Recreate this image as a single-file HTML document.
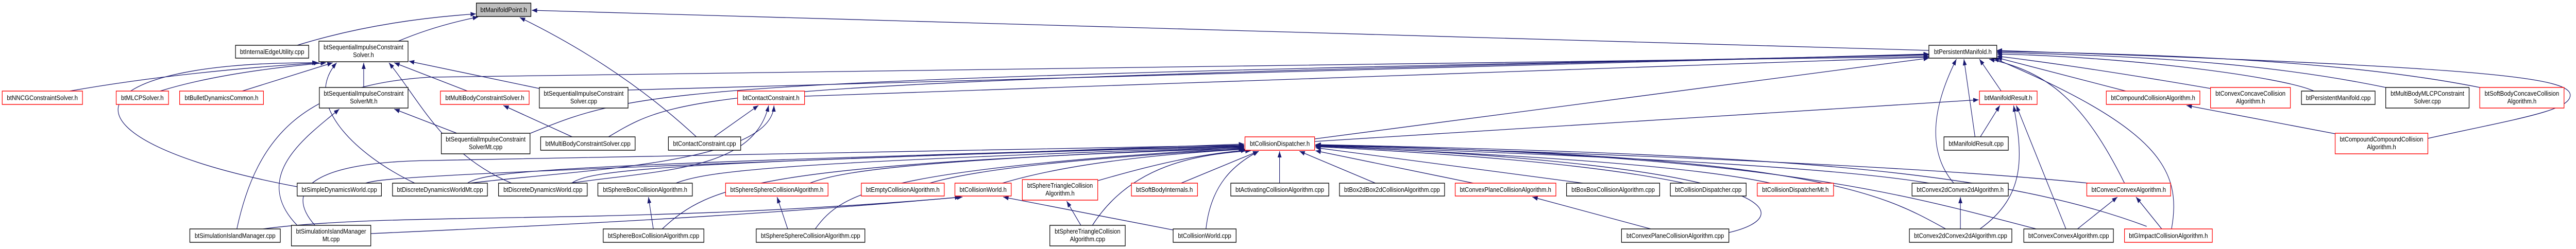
<!DOCTYPE html>
<html><head><meta charset="utf-8"><style>
html,body{margin:0;padding:0;background:#fff;width:100%;height:484px;overflow:hidden;}
svg{display:block;width:100%;height:484px;}
text{font-family:"Liberation Sans",Arial,sans-serif;font-size:13px;fill:#000;}
.b{fill:#fff;stroke:#000;stroke-width:1.4;}
.r{fill:#fff;stroke:#ff0000;stroke-width:1.4;}
.g{fill:#bfbfbf;stroke:#000;stroke-width:1.4;}
.e{fill:none;stroke:#191970;stroke-width:1.3;marker-end:url(#a);}
</style></head><body>
<svg width="100%" height="484" viewBox="0 0 5808 484" preserveAspectRatio="none" xmlns="http://www.w3.org/2000/svg" overflow="hidden">
<defs><marker id="a" markerUnits="userSpaceOnUse" markerWidth="12" markerHeight="9" viewBox="0 0 12 9" refX="12" refY="4.5" orient="auto"><path d="M0,0 L12,4.5 L0,9 z" fill="#191970"/></marker></defs>

<path class="e" d="M670 88 Q850 40 1073 27"/>
<path class="e" d="M898 80 Q980 50 1078 33"/>
<path class="e" d="M4349 98 L1199 20"/>
<path class="e" d="M1570 266 Q1400 130 1172 34"/>
<path class="e" d="M157 177 Q400 140 719 122"/>
<path class="e" d="M361 177 Q500 140 735 122"/>
<path class="e" d="M546 177 L750 122"/>
<path class="e" d="M670 363 C100 270,150 120,716 122"/>
<path class="e" d="M820 170 L820 122"/>
<path class="e" d="M1216 172 L922 119"/>
<path class="e" d="M1054 177 L889 122"/>
<path class="e" d="M1153 356 C1000 300,950 200,877 122"/>
<path class="e" d="M935 356 C800 300,680 200,759 122"/>
<path class="e" d="M534 445 C580 260,690 165,968 150 L4349 110"/>
<path class="e" d="M670 438 C560 340,700 260,765 212"/>
<path class="e" d="M1030 259 L889 212"/>
<path class="e" d="M1290 266 L1135 205"/>
<path class="e" d="M1610 266 L1710 205"/>
<path class="e" d="M1285 356 C1500 330,1700 330,1733 205"/>
<path class="e" d="M1060 356 C1300 330,1740 320,1745 205"/>
<path class="e" d="M1814 187 L4349 111"/>
<path class="e" d="M1416 175 L4349 105"/>
<path class="e" d="M1196 259 C1450 170,1500 155,4349 107"/>
<path class="e" d="M1372 266 C1540 180,1560 160,4349 106"/>
<path class="e" d="M1473 445 L1462 383"/>
<path class="e" d="M1776 445 L1752 383"/>
<path class="e" d="M2437 438 L2405 391"/>
<path class="e" d="M2645 447 L2262 383"/>
<path class="e" d="M593 445 C900 410,1400 440,2170 383"/>
<path class="e" d="M836 454 C1200 440,1700 420,2165 383"/>
<path class="e" d="M710 438 C640 370,700 315,968 312 L2805 282"/>
<path class="e" d="M824 356 C870 345,950 338,2805 280"/>
<path class="e" d="M1054 356 C1100 330,1300 320,2805 283"/>
<path class="e" d="M1289 356 C1330 330,1500 315,2805 284"/>
<path class="e" d="M1524 356 C1600 330,1800 315,2805 285"/>
<path class="e" d="M1826 356 C1900 330,2100 310,2805 286"/>
<path class="e" d="M1838 445 C1900 370,2000 330,2805 287"/>
<path class="e" d="M1493 445 C1600 360,1700 320,2805 288"/>
<path class="e" d="M2096 356 C2200 330,2400 310,2805 289"/>
<path class="e" d="M2260 356 C2400 320,2600 300,2808 290"/>
<path class="e" d="M2476 351 C2600 320,2700 300,2810 292"/>
<path class="e" d="M2463 438 C2550 320,2700 300,2820 293"/>
<path class="e" d="M2663 356 L2837 294"/>
<path class="e" d="M2719 445 C2730 360,2780 320,2838 294"/>
<path class="e" d="M2885 356 L2885 294"/>
<path class="e" d="M3101 356 L2930 294"/>
<path class="e" d="M3322 356 L2966 293"/>
<path class="e" d="M3569 356 L2966 287"/>
<path class="e" d="M3797 356 C3600 320,3300 300,2966 285"/>
<path class="e" d="M3992 356 C3800 320,3400 300,2966 284"/>
<path class="e" d="M4350 356 C4100 320,3500 300,2966 283"/>
<path class="e" d="M4708 356 C4300 320,3500 295,2966 282"/>
<path class="e" d="M4387 445 C4250 380,4100 300,2966 283"/>
<path class="e" d="M4591 445 C4300 380,4000 300,2966 282"/>
<path class="e" d="M4840 440 C4500 330,4000 300,2966 281"/>
<path class="e" d="M3898 452 C4060 420,4030 320,2966 284"/>
<path class="e" d="M2964 270 L4349 113"/>
<path class="e" d="M2964 275 L4461 194"/>
<path class="e" d="M3722 445 L3455 383"/>
<path class="e" d="M4512 177 L4463 115"/>
<path class="e" d="M4453 266 L4428 115"/>
<path class="e" d="M4465 266 L4509 205"/>
<path class="e" d="M4405 356 C4350 300,4350 220,4411 115"/>
<path class="e" d="M4420 445 L4420 383"/>
<path class="e" d="M4464 445 C4570 380,4560 300,4540 205"/>
<path class="e" d="M4658 445 L4546 205"/>
<path class="e" d="M4684 445 L4774 383"/>
<path class="e" d="M4790 356 C4700 200,4620 140,4485 115"/>
<path class="e" d="M4874 445 L4816 383"/>
<path class="e" d="M4896 445 C4920 330,4870 250,4495 113"/>
<path class="e" d="M4793 177 L4502 112"/>
<path class="e" d="M4984 172 Q4700 130 4502 109"/>
<path class="e" d="M5217 177 C5150 150,4800 110,4502 105"/>
<path class="e" d="M5379 170 C5100 120,4800 108,4502 102"/>
<path class="e" d="M5591 170 C5300 120,4900 105,4502 100"/>
<path class="e" d="M5474 269 C5680 230,5795 215,5795 185 C5795 150,5600 130,4502 98"/>
<path class="e" d="M5265 260 L4930 205"/>

<rect class="g" x="1074" y="6" width="123" height="26"/><text x="1135.5" y="23.5" text-anchor="middle" textLength="105" lengthAdjust="spacingAndGlyphs">btManifoldPoint.h</text>
<rect class="b" x="531" y="88" width="165" height="25"/><text x="613.5" y="105" text-anchor="middle" textLength="145" lengthAdjust="spacingAndGlyphs">btInternalEdgeUtility.cpp</text>
<rect class="b" x="719" y="80" width="201" height="40"/><text x="819.5" y="96" text-anchor="middle" textLength="180" lengthAdjust="spacingAndGlyphs">btSequentialImpulseConstraint</text><text x="819.5" y="111" text-anchor="middle">Solver.h</text>
<rect class="b" x="4349" y="88" width="153" height="25"/><text x="4425.5" y="105" text-anchor="middle" textLength="130" lengthAdjust="spacingAndGlyphs">btPersistentManifold.h</text>

<rect class="r" x="5" y="177" width="181" height="26"/><text x="95.5" y="194.5" text-anchor="middle" textLength="160" lengthAdjust="spacingAndGlyphs">btNNCGConstraintSolver.h</text>
<rect class="r" x="262" y="177" width="118" height="26"/><text x="321" y="194.5" text-anchor="middle" textLength="96" lengthAdjust="spacingAndGlyphs">btMLCPSolver.h</text>
<rect class="r" x="405" y="177" width="189" height="26"/><text x="499.5" y="194.5" text-anchor="middle" textLength="166" lengthAdjust="spacingAndGlyphs">btBulletDynamicsCommon.h</text>
<rect class="b" x="720" y="170" width="200" height="40"/><text x="820" y="186" text-anchor="middle" textLength="180" lengthAdjust="spacingAndGlyphs">btSequentialImpulseConstraint</text><text x="820" y="201" text-anchor="middle">SolverMt.h</text>
<rect class="r" x="993" y="177" width="200" height="26"/><text x="1093" y="194.5" text-anchor="middle" textLength="178" lengthAdjust="spacingAndGlyphs">btMultiBodyConstraintSolver.h</text>
<rect class="b" x="1216" y="170" width="200" height="40"/><text x="1316" y="186" text-anchor="middle" textLength="180" lengthAdjust="spacingAndGlyphs">btSequentialImpulseConstraint</text><text x="1316" y="201" text-anchor="middle">Solver.cpp</text>
<rect class="r" x="1663" y="177" width="151" height="26"/><text x="1738.5" y="194.5" text-anchor="middle" textLength="128" lengthAdjust="spacingAndGlyphs">btContactConstraint.h</text>
<rect class="r" x="4463" y="177" width="130" height="26"/><text x="4528" y="194.5" text-anchor="middle" textLength="108" lengthAdjust="spacingAndGlyphs">btManifoldResult.h</text>
<rect class="r" x="4749" y="177" width="211" height="26"/><text x="4854.5" y="194.5" text-anchor="middle" textLength="190" lengthAdjust="spacingAndGlyphs">btCompoundCollisionAlgorithm.h</text>
<rect class="r" x="4984" y="170" width="180" height="40"/><text x="5074" y="186" text-anchor="middle" textLength="158" lengthAdjust="spacingAndGlyphs">btConvexConcaveCollision</text><text x="5074" y="201" text-anchor="middle">Algorithm.h</text>
<rect class="b" x="5189" y="177" width="166" height="26"/><text x="5272" y="194.5" text-anchor="middle" textLength="146" lengthAdjust="spacingAndGlyphs">btPersistentManifold.cpp</text>
<rect class="b" x="5379" y="170" width="188" height="40"/><text x="5473" y="186" text-anchor="middle" textLength="166" lengthAdjust="spacingAndGlyphs">btMultiBodyMLCPConstraint</text><text x="5473" y="201" text-anchor="middle">Solver.cpp</text>
<rect class="r" x="5591" y="170" width="190" height="40"/><text x="5686" y="186" text-anchor="middle" textLength="168" lengthAdjust="spacingAndGlyphs">btSoftBodyConcaveCollision</text><text x="5686" y="201" text-anchor="middle">Algorithm.h</text>

<rect class="b" x="995" y="259" width="200" height="40"/><text x="1095" y="275" text-anchor="middle" textLength="180" lengthAdjust="spacingAndGlyphs">btSequentialImpulseConstraint</text><text x="1095" y="290" text-anchor="middle">SolverMt.cpp</text>
<rect class="b" x="1219" y="266" width="213" height="26"/><text x="1325.5" y="283.5" text-anchor="middle" textLength="192" lengthAdjust="spacingAndGlyphs">btMultiBodyConstraintSolver.cpp</text>
<rect class="b" x="1507" y="266" width="163" height="26"/><text x="1588.5" y="283.5" text-anchor="middle" textLength="142" lengthAdjust="spacingAndGlyphs">btContactConstraint.cpp</text>
<rect class="r" x="2807" y="266" width="157" height="26"/><text x="2885.5" y="283.5" text-anchor="middle" textLength="135" lengthAdjust="spacingAndGlyphs">btCollisionDispatcher.h</text>
<rect class="b" x="4383" y="266" width="145" height="26"/><text x="4455.5" y="283.5" text-anchor="middle" textLength="124" lengthAdjust="spacingAndGlyphs">btManifoldResult.cpp</text>
<rect class="r" x="5265" y="259" width="209" height="40"/><text x="5369.5" y="275" text-anchor="middle" textLength="188" lengthAdjust="spacingAndGlyphs">btCompoundCompoundCollision</text><text x="5369.5" y="290" text-anchor="middle">Algorithm.h</text>

<rect class="b" x="670" y="356" width="190" height="25"/><text x="765" y="373" text-anchor="middle" textLength="170" lengthAdjust="spacingAndGlyphs">btSimpleDynamicsWorld.cpp</text>
<rect class="b" x="885" y="356" width="214" height="25"/><text x="992" y="373" text-anchor="middle" textLength="194" lengthAdjust="spacingAndGlyphs">btDiscreteDynamicsWorldMt.cpp</text>
<rect class="b" x="1124" y="356" width="200" height="25"/><text x="1224" y="373" text-anchor="middle" textLength="178" lengthAdjust="spacingAndGlyphs">btDiscreteDynamicsWorld.cpp</text>
<rect class="b" x="1348" y="356" width="213" height="25"/><text x="1454.5" y="373" text-anchor="middle" textLength="190" lengthAdjust="spacingAndGlyphs">btSphereBoxCollisionAlgorithm.h</text>
<rect class="r" x="1636" y="356" width="231" height="25"/><text x="1751.5" y="373" text-anchor="middle" textLength="210" lengthAdjust="spacingAndGlyphs">btSphereSphereCollisionAlgorithm.h</text>
<rect class="r" x="1942" y="356" width="187" height="25"/><text x="2035.5" y="373" text-anchor="middle" textLength="166" lengthAdjust="spacingAndGlyphs">btEmptyCollisionAlgorithm.h</text>
<rect class="r" x="2153" y="356" width="127" height="25"/><text x="2216.5" y="373" text-anchor="middle" textLength="106" lengthAdjust="spacingAndGlyphs">btCollisionWorld.h</text>
<rect class="r" x="2305" y="349" width="170" height="40"/><text x="2390" y="365" text-anchor="middle" textLength="148" lengthAdjust="spacingAndGlyphs">btSphereTriangleCollision</text><text x="2390" y="380" text-anchor="middle">Algorithm.h</text>
<rect class="r" x="2551" y="356" width="149" height="25"/><text x="2625.5" y="373" text-anchor="middle" textLength="128" lengthAdjust="spacingAndGlyphs">btSoftBodyInternals.h</text>
<rect class="b" x="2775" y="356" width="221" height="25"/><text x="2885.5" y="373" text-anchor="middle" textLength="200" lengthAdjust="spacingAndGlyphs">btActivatingCollisionAlgorithm.cpp</text>
<rect class="b" x="3020" y="356" width="237" height="25"/><text x="3138.5" y="373" text-anchor="middle" textLength="216" lengthAdjust="spacingAndGlyphs">btBox2dBox2dCollisionAlgorithm.cpp</text>
<rect class="r" x="3281" y="356" width="227" height="25"/><text x="3394.5" y="373" text-anchor="middle" textLength="206" lengthAdjust="spacingAndGlyphs">btConvexPlaneCollisionAlgorithm.h</text>
<rect class="b" x="3532" y="356" width="210" height="25"/><text x="3637" y="373" text-anchor="middle" textLength="188" lengthAdjust="spacingAndGlyphs">btBoxBoxCollisionAlgorithm.cpp</text>
<rect class="b" x="3766" y="356" width="171" height="25"/><text x="3851.5" y="373" text-anchor="middle" textLength="150" lengthAdjust="spacingAndGlyphs">btCollisionDispatcher.cpp</text>
<rect class="r" x="3962" y="356" width="172" height="25"/><text x="4048" y="373" text-anchor="middle" textLength="150" lengthAdjust="spacingAndGlyphs">btCollisionDispatcherMt.h</text>
<rect class="b" x="4311" y="356" width="217" height="25"/><text x="4419.5" y="373" text-anchor="middle" textLength="196" lengthAdjust="spacingAndGlyphs">btConvex2dConvex2dAlgorithm.h</text>
<rect class="r" x="4705" y="356" width="189" height="25"/><text x="4799.5" y="373" text-anchor="middle" textLength="168" lengthAdjust="spacingAndGlyphs">btConvexConvexAlgorithm.h</text>

<rect class="b" x="428" y="445" width="204" height="26"/><text x="530" y="462.5" text-anchor="middle" textLength="182" lengthAdjust="spacingAndGlyphs">btSimulationIslandManager.cpp</text>
<rect class="b" x="657" y="438" width="179" height="40"/><text x="746.5" y="454" text-anchor="middle" textLength="158" lengthAdjust="spacingAndGlyphs">btSimulationIslandManager</text><text x="746.5" y="469" text-anchor="middle">Mt.cpp</text>
<rect class="b" x="1360" y="445" width="227" height="26"/><text x="1473.5" y="462.5" text-anchor="middle" textLength="206" lengthAdjust="spacingAndGlyphs">btSphereBoxCollisionAlgorithm.cpp</text>
<rect class="b" x="1705" y="445" width="245" height="26"/><text x="1827.5" y="462.5" text-anchor="middle" textLength="224" lengthAdjust="spacingAndGlyphs">btSphereSphereCollisionAlgorithm.cpp</text>
<rect class="b" x="2367" y="438" width="170" height="40"/><text x="2452" y="454" text-anchor="middle" textLength="148" lengthAdjust="spacingAndGlyphs">btSphereTriangleCollision</text><text x="2452" y="469" text-anchor="middle">Algorithm.cpp</text>
<rect class="b" x="2645" y="445" width="142" height="26"/><text x="2716" y="462.5" text-anchor="middle" textLength="120" lengthAdjust="spacingAndGlyphs">btCollisionWorld.cpp</text>
<rect class="b" x="3656" y="445" width="242" height="26"/><text x="3777" y="462.5" text-anchor="middle" textLength="220" lengthAdjust="spacingAndGlyphs">btConvexPlaneCollisionAlgorithm.cpp</text>
<rect class="b" x="4305" y="445" width="231" height="26"/><text x="4420.5" y="462.5" text-anchor="middle" textLength="210" lengthAdjust="spacingAndGlyphs">btConvex2dConvex2dAlgorithm.cpp</text>
<rect class="b" x="4563" y="445" width="202" height="26"/><text x="4664" y="462.5" text-anchor="middle" textLength="182" lengthAdjust="spacingAndGlyphs">btConvexConvexAlgorithm.cpp</text>
<rect class="r" x="4790" y="445" width="198" height="26"/><text x="4889" y="462.5" text-anchor="middle" textLength="178" lengthAdjust="spacingAndGlyphs">btGImpactCollisionAlgorithm.h</text>
</svg>
</body></html>
